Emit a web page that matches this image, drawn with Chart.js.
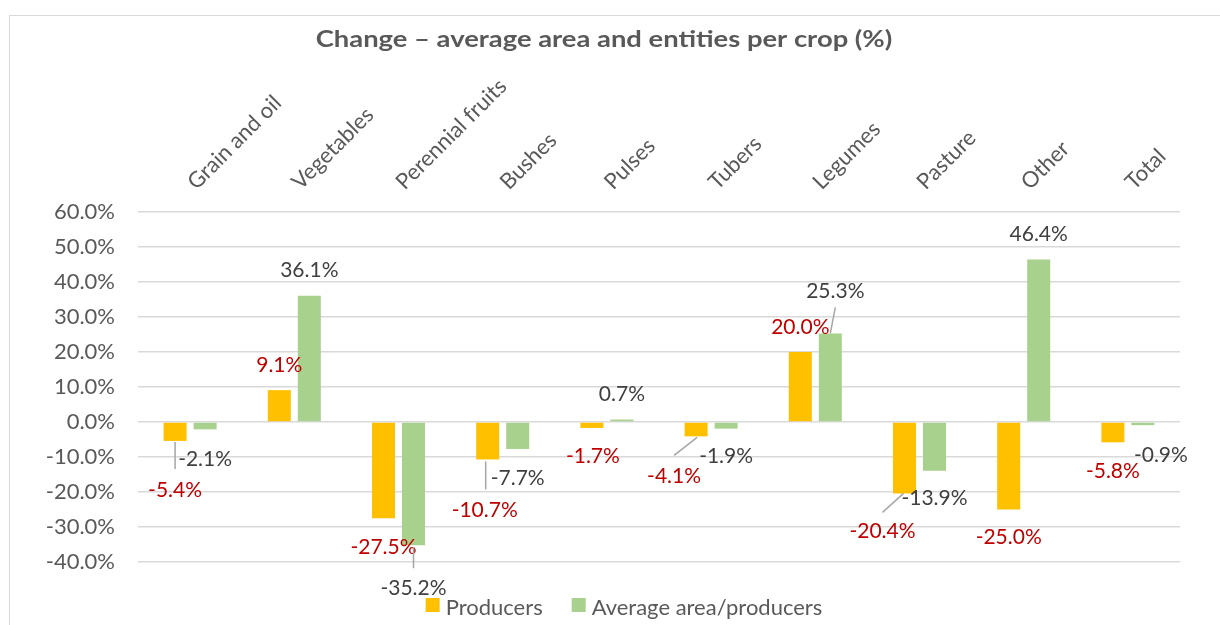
<!DOCTYPE html>
<html>
<head>
<meta charset="utf-8">
<script src="https://cdn.jsdelivr.net/npm/chart.js@4/dist/chart.umd.min.js"></script>
<style>
  html, body { margin: 0; padding: 0; background: #fff; }
  canvas { display: block; }
</style>
</head>
<body>
<canvas id="crop-chart" width="1220" height="625"></canvas>
<script>
const categories = ['Grain and oil', 'Vegetables', 'Perennial fruits', 'Bushes', 'Pulses', 'Tubers', 'Legumes', 'Pasture', 'Other', 'Total'];
const producers = [-5.4, 9.1, -27.5, -10.7, -1.7, -4.1, 20.0, -20.4, -25.0, -5.8];
const avgArea = [-2.1, 36.1, -35.2, -7.7, 0.7, -1.9, 25.3, -13.9, 46.4, -0.9];
const seriesNames = ['Producers', 'Average area/producers'];
const yMin = -40;
const yMax = 60;
const yStep = 10;

const FONT = 'Lato, "Open Sans", sans-serif';
const TEXT = '#595959';

// label nudges (px from bar tip) and leader lines, copied from the placed labels
const labelNudge = [
    [[0, 49], [0, -25], [0, 29], [-3, 51], [1, 28], [-22, 40], [0, -25], [-22, 38], [0, 28], [0, 29]],
    [[0, 30], [0, -25], [0, 43], [0, 29], [0, -25], [0, 28], [5, -42], [0, 28], [0, -25], [18, 30]]
];
const leaders = [
    [[0, 1, 0, 28], null, null, [-2, 2, -2, 30], null, [1, 1, -22, 19], null, [-1, 0, -22, 19], null, null],
    [null, null, [0, 2, 0, 23], null, null, null, [5, -26, 0, 0], null, null, null]
];
const labelColors = ['#C00000', '#404040'];

const framePlugin = {
    id: 'frame',
    beforeDraw(chart) {
        const ctx = chart.ctx;
        ctx.save();
        ctx.strokeStyle = '#d9d9d9';
        ctx.lineWidth = 1;
        ctx.strokeRect(9.5, 15.5, 1300, 700);
        ctx.restore();
    },
    afterDraw(chart) {
        const ctx = chart.ctx;
        ctx.save();
        // title, a little wider than Lato draws it
        ctx.fillStyle = TEXT;
        ctx.font = 'bold 23px ' + FONT;
        ctx.textAlign = 'center';
        ctx.textBaseline = 'alphabetic';
        ctx.save();
        ctx.translate(604, 47);
        ctx.scale(1.19, 1);
        ctx.fillText('Change \u2013 average area and entities per crop (%)', 0, 0);
        ctx.restore();

        // legend
        ctx.font = '22px ' + FONT;
        ctx.textBaseline = 'middle';
        const box = 14, gap = 6, itemGap = 29;
        const ds = chart.data.datasets;
        let total = 0;
        ds.forEach((d, i) => {
            total += box + gap + ctx.measureText(d.label).width;
            if (i < ds.length - 1) total += itemGap;
        });
        let x = 624 - total / 2;
        const cy = 605;
        ctx.textAlign = 'left';
        ds.forEach(d => {
            ctx.fillStyle = d.backgroundColor;
            ctx.fillRect(x, cy - box / 2, box, box);
            x += box + gap;
            ctx.fillStyle = TEXT;
            ctx.fillText(d.label, x, cy + 3);
            x += ctx.measureText(d.label).width + itemGap;
        });
        ctx.restore();
    },
    afterDatasetsDraw(chart) {
        const ctx = chart.ctx;
        ctx.save();
        ctx.font = '21px ' + FONT;
        ctx.textAlign = 'center';
        ctx.textBaseline = 'middle';
        chart.data.datasets.forEach((d, di) => {
            chart.getDatasetMeta(di).data.forEach((bar, i) => {
                const line = leaders[di][i];
                if (line) {
                    ctx.strokeStyle = '#a6a6a6';
                    ctx.lineWidth = 1.5;
                    ctx.beginPath();
                    ctx.moveTo(bar.x + line[0], bar.y + line[1]);
                    ctx.lineTo(bar.x + line[2], bar.y + line[3]);
                    ctx.stroke();
                }
                const nudge = labelNudge[di][i];
                ctx.fillStyle = labelColors[di];
                ctx.fillText(d.data[i].toFixed(1) + '%', bar.x + nudge[0], bar.y + nudge[1]);
            });
        });
        ctx.restore();
    }
};

new Chart(document.getElementById('crop-chart'), {
    type: 'bar',
    data: {
        labels: categories,
        datasets: [
            { label: seriesNames[0], data: producers, backgroundColor: '#FFC000' },
            { label: seriesNames[1], data: avgArea, backgroundColor: '#A9D18E' }
        ]
    },
    options: {
        responsive: false,
        animation: false,
        devicePixelRatio: 1,
        categoryPercentage: 0.576,
        barPercentage: 0.767,
        layout: { padding: { top: 0, left: 0, right: 40, bottom: 63 } },
        plugins: {
            legend: { display: false },
            title: { display: false },
            tooltip: { enabled: false }
        },
        scales: {
            x: {
                position: 'top',
                grid: { display: false, drawTicks: false },
                border: { display: false },
                ticks: {
                    color: TEXT,
                    font: { family: FONT, size: 22 },
                    minRotation: 45,
                    maxRotation: 45,
                    autoSkip: false,
                    padding: 17,
                    labelOffset: 20
                },
                afterFit(scale) { scale.height = 212; }
            },
            y: {
                min: yMin,
                max: yMax,
                grid: { color: '#d9d9d9', lineWidth: 1.5, drawTicks: false },
                border: { display: false },
                ticks: {
                    stepSize: yStep,
                    color: TEXT,
                    font: { family: FONT, size: 22 },
                    padding: 23,
                    callback: v => v.toFixed(1) + '%'
                },
                afterFit(scale) { scale.width = 138; }
            }
        }
    },
    plugins: [framePlugin]
});
</script>
</body>
</html>
